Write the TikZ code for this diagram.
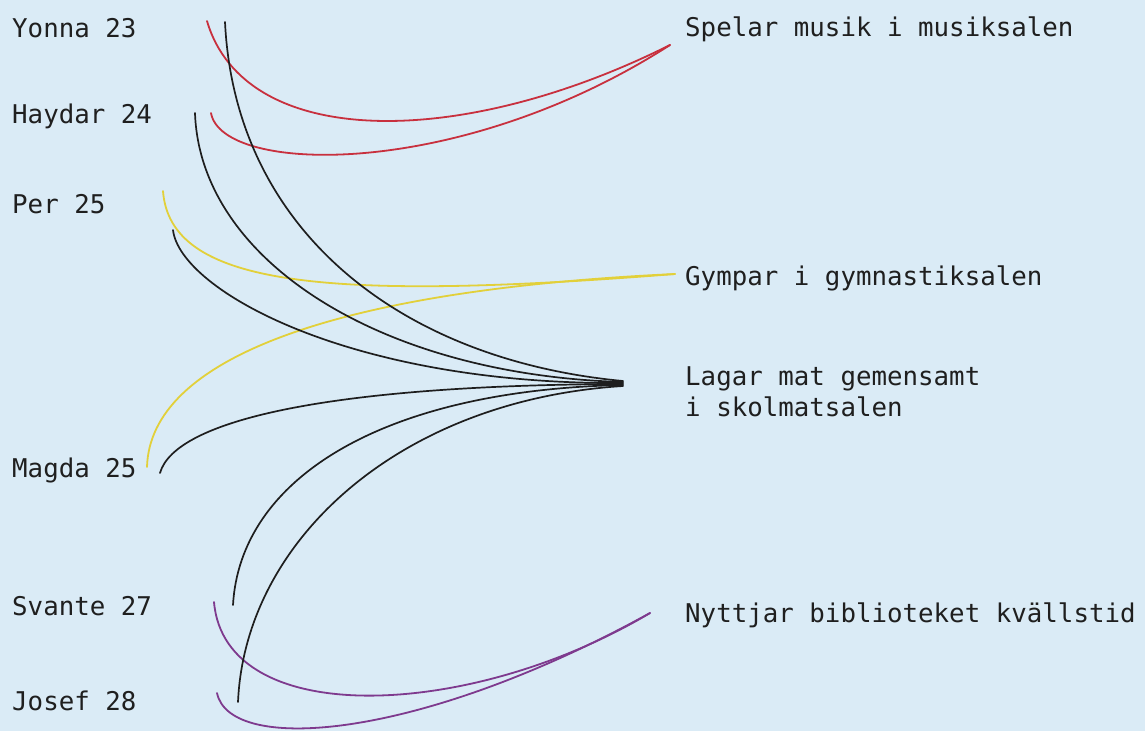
\documentclass[tikz,border=0pt]{standalone}
\usepackage{fontspec}
\setmonofont{DejaVu Sans Mono}
\definecolor{bgblue}{HTML}{DAEBF6}
\definecolor{txt}{HTML}{1F1F1F}
\definecolor{redc}{HTML}{C8303E}
\definecolor{yelc}{HTML}{E2D03A}
\definecolor{purc}{HTML}{7E3A8E}
\definecolor{blkc}{HTML}{1E1E1E}
\tikzset{
  lbl/.style={anchor=base west, inner sep=0pt, text=txt, font=\ttfamily\fontsize{25.8}{31}\selectfont},
  curve/.style={line width=1.8pt, line cap=round},
  redline/.style={curve, draw=redc},
  yelline/.style={curve, draw=yelc},
  purline/.style={curve, draw=purc},
  blkline/.style={curve, draw=blkc, line width=1.7pt},
}
\begin{document}
\begin{tikzpicture}[x=1pt,y=-1pt]
\fill[bgblue] (0,0) rectangle (1145,731);
\useasboundingbox (0,0) rectangle (1145,731);
% left labels
\node[lbl] (yonna) at (12,37) {Yonna 23};
\node[lbl] (haydar) at (12,123) {Haydar 24};
\node[lbl] (per) at (12,213) {Per 25};
\node[lbl] (magda) at (12,477) {Magda 25};
\node[lbl] (svante) at (12,615) {Svante 27};
\node[lbl] (josef) at (12,710) {Josef 28};
% right labels
\node[lbl] (musik) at (685,36) {Spelar musik i musiksalen};
\node[lbl] (gym) at (685,285) {Gympar i gymnastiksalen};
\node[lbl] (mat) at (685,385) {Lagar mat gemensamt};
\node[lbl] (mat2) at (685,416) {i skolmatsalen};
\node[lbl] (bib) at (685,622) {Nyttjar biblioteket kvällstid};
% end points
\coordinate (eMusik) at (670,45);
\coordinate (eGym) at (675,274);
\coordinate (eBib) at (650,613);
\coordinate (eMat1) at (623,381);
\coordinate (eMat2) at (623,382);
\coordinate (eMat3) at (623,383);
\coordinate (eMat4) at (623,384);
\coordinate (eMat5) at (623,385);
\coordinate (eMat6) at (623,386);
% start points
\coordinate (sYr) at (207,21);
\coordinate (sYk) at (225,22);
\coordinate (sHr) at (211,113);
\coordinate (sHk) at (195,113);
\coordinate (sPy) at (163,191);
\coordinate (sPk) at (173,230);
\coordinate (sMy) at (147,467);
\coordinate (sMk) at (160,473);
\coordinate (sSp) at (214,602);
\coordinate (sSk) at (233,605);
\coordinate (sJp) at (217,693);
\coordinate (sJk) at (238,702);
% red
\draw[redline] (sYr) .. controls (245,150) and (460,150) .. (eMusik);
\draw[redline] (sHr) .. controls (222,175) and (460,180) .. (eMusik);
% yellow
\draw[yelline] (sPy) .. controls (170,285) and (320,302) .. (eGym);
\draw[yelline] (sMy) .. controls (150,360) and (330,290) .. (eGym);
% purple
\draw[purline] (sSp) .. controls (225,730) and (470,720) .. (eBib);
\draw[purline] (sJp) .. controls (230,755) and (420,740) .. (eBib);
% black
\draw[blkline] (sYk) .. controls (235,230) and (400,360) .. (eMat1);
\draw[blkline] (sHk) .. controls (200,260) and (380,375) .. (eMat2);
\draw[blkline] (sPk) .. controls (180,290) and (350,385) .. (eMat3);
\draw[blkline] (sMk) .. controls (175,420) and (330,385) .. (eMat4);
\draw[blkline] (sSk) .. controls (240,480) and (380,390) .. (eMat5);
\draw[blkline] (sJk) .. controls (245,540) and (400,400) .. (eMat6);
\end{tikzpicture}
\end{document}
